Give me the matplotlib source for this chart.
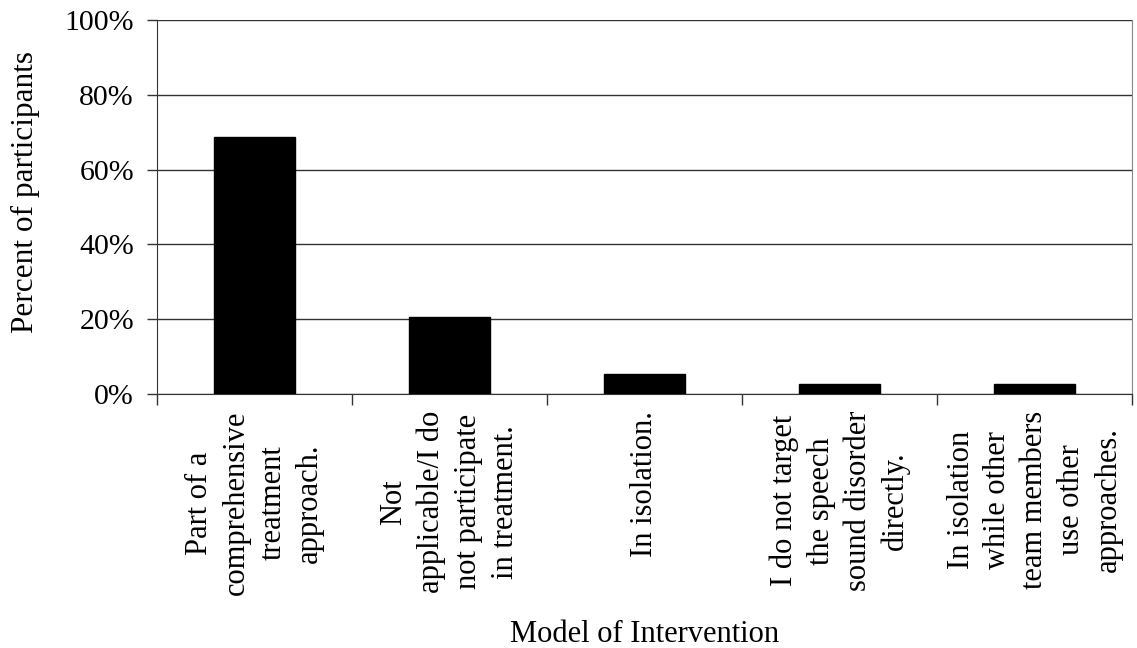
import matplotlib.pyplot as plt
import numpy as np

categories = [
    "Part of a\ncomprehensive\ntreatment\napproach.",
    "Not\napplicable/I do\nnot participate\nin treatment.",
    "In isolation.",
    "I do not target\nthe speech\nsound disorder\ndirectly.",
    "In isolation\nwhile other\nteam members\nuse other\napproaches.",
]
percent = [68.6, 20.6, 5.4, 2.7, 2.7]
yticks = [0, 20, 40, 60, 80, 100]

plt.rcParams['font.family'] = ['Liberation Serif', 'DejaVu Serif']

fig = plt.figure(figsize=(11.37, 6.48), dpi=100, facecolor='w')
ax = fig.add_axes([0.138, 0.392, 0.858, 0.577])

x = np.arange(len(categories))
ax.bar(x, percent, width=0.415, color='black', edgecolor='black', zorder=3)

ax.set_xlim(-0.5, len(categories) - 0.5)
ax.set_ylim(0, 100)
ax.set_yticks(yticks)
ax.set_yticklabels(['%d%%' % v for v in yticks], fontsize=21.5)
ax.yaxis.grid(True, color='#333333', linewidth=1.0, zorder=0)

ax.set_xticks(x)
ax.set_xticklabels(categories, rotation=90, fontsize=22,
                   ha='center', va='top', multialignment='center',
                   linespacing=1.36)
ax.set_xticks(np.arange(len(categories) + 1) - 0.5, minor=True)
ax.tick_params(axis='x', which='major', length=0, pad=12)
ax.tick_params(axis='x', which='minor', length=8, width=1, color='#333333')
ax.tick_params(axis='y', length=7, width=1, color='#333333', pad=9.5)

for side in ['left', 'bottom']:
    ax.spines[side].set_color('#333333')
ax.spines['top'].set_visible(False)
ax.spines['right'].set_color('#888888')

ax.set_ylabel('Percent of participants', fontsize=22.5)
ax.yaxis.set_label_coords(-0.12, 0.54)
ax.set_xlabel('Model of Intervention', fontsize=22)
ax.xaxis.set_label_coords(0.5, -0.605)

fig.savefig('out.png', dpi=100, facecolor='w')
